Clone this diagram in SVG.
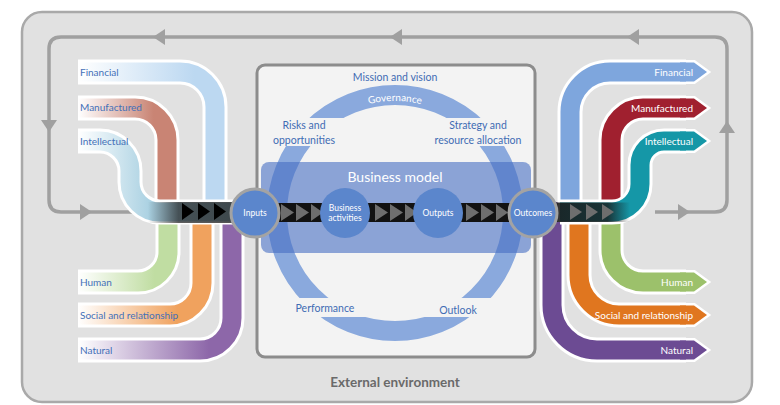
<svg xmlns="http://www.w3.org/2000/svg" width="780" height="405" viewBox="0 0 780 405">
<style>
text{font-family:Lato,"Liberation Sans",sans-serif}
.wo{fill:none;stroke:#fff;stroke-width:25}
.st{fill:none;stroke-width:19}
.lab{font-size:10px;fill:#4470b8}
.rlab{font-size:10px;fill:#fff;text-anchor:end}
.ctr{font-size:10.5px;fill:#3f6cb4;text-anchor:middle}
.clab{font-size:8.5px;fill:#fff;text-anchor:middle}
.tip{stroke:#fff;stroke-width:5;paint-order:stroke;stroke-linejoin:miter}
.loop{fill:none;stroke:#a0a0a0;stroke-width:3.5}
.la{fill:#a0a0a0}
.bar{fill:#121212}
.gt{fill:#6e6e6e}
</style>
<defs>
<linearGradient id="gFinL" x1="0" y1="0" x2="1" y2="0"><stop offset="0" stop-color="#fff"/><stop offset="0.85" stop-color="#bcd8f1"/></linearGradient>
<linearGradient id="gManL" x1="0" y1="0" x2="1" y2="0"><stop offset="0" stop-color="#fff"/><stop offset="0.85" stop-color="#c98474"/></linearGradient>
<linearGradient id="gIntL" x1="0" y1="0" x2="1" y2="0"><stop offset="0" stop-color="#fff"/><stop offset="0.45" stop-color="#aad1e2"/></linearGradient>
<linearGradient id="gHumL" x1="0" y1="0" x2="1" y2="0"><stop offset="0" stop-color="#fff"/><stop offset="0.85" stop-color="#c0dda2"/></linearGradient>
<linearGradient id="gSocL" x1="0" y1="0" x2="1" y2="0"><stop offset="0" stop-color="#fff"/><stop offset="0.8" stop-color="#f0a25e"/></linearGradient>
<linearGradient id="gNatL" x1="0" y1="0" x2="1" y2="0"><stop offset="0" stop-color="#fff"/><stop offset="0.85" stop-color="#8d67a9"/></linearGradient>
<linearGradient id="gDarkL" gradientUnits="userSpaceOnUse" x1="148" y1="0" x2="235" y2="0"><stop offset="0" stop-color="#1a1a1a" stop-opacity="0"/><stop offset="0.35" stop-color="#1a1a1a" stop-opacity="0.7"/><stop offset="1" stop-color="#1a1a1a" stop-opacity="0.75"/></linearGradient>
<linearGradient id="gDarkR" gradientUnits="userSpaceOnUse" x1="555" y1="0" x2="630" y2="0"><stop offset="0" stop-color="#1a1a1a" stop-opacity="0.9"/><stop offset="0.7" stop-color="#1a1a1a" stop-opacity="0.8"/><stop offset="1" stop-color="#1a1a1a" stop-opacity="0"/></linearGradient>
<clipPath id="ringClip">
<rect x="0" y="0" width="780" height="118"/>
<rect x="0" y="146" width="780" height="152"/>
<rect x="0" y="317" width="780" height="90"/>
</clipPath>
<path id="govArc" d="M339,116 A112,112 0 0 1 451,116"/>
</defs>

<g id="external-environment">
<rect x="22" y="12" width="730" height="390" rx="20" fill="#e1e1e1" stroke="#a9a9a9" stroke-width="2.5"/>
<text x="395" y="387" text-anchor="middle" font-size="13.5" font-weight="bold" fill="#6a6a6a">External environment</text>
</g>

<g id="connectors">
<path class="loop" d="M655,212 H715 Q727,212 727,200 V49 Q727,37 715,37 H61 Q49,37 49,49 V200 Q49,212 61,212 H180"/>
<polygon class="la" points="153,37 165,29 165,45"/>
<polygon class="la" points="390,37 402,29 402,45"/>
<polygon class="la" points="627,37 639,29 639,45"/>
<polygon class="la" points="41,120 57,120 49,132"/>
<polygon class="la" points="80,204 80,220 92,212"/>
<polygon class="la" points="678,204 678,220 690,212"/>
<polygon class="la" points="719,133 735,133 727,121"/>
</g>

<g id="organisation">
<rect x="257" y="65" width="278" height="292" rx="8" fill="#f3f3f3" stroke="#8c8c8c" stroke-width="3"/>
<circle cx="395" cy="213" r="118" fill="none" stroke="#8aa9dd" stroke-width="20" clip-path="url(#ringClip)"/>
<rect x="261" y="162" width="270" height="91" rx="8" fill="rgb(70,110,195)" fill-opacity="0.6"/>
<text x="395" y="182" text-anchor="middle" font-size="14" fill="#fff">Business model</text>
<text class="ctr" x="395" y="81">Mission and vision</text>
<text font-size="10" fill="#fff" text-anchor="middle"><textPath href="#govArc" startOffset="50%">Governance</textPath></text>
<text class="ctr" x="304" y="129">Risks and</text>
<text class="ctr" x="304" y="144">opportunities</text>
<text class="ctr" x="478" y="129">Strategy and</text>
<text class="ctr" x="478" y="144">resource allocation</text>
<text class="ctr" x="325" y="312">Performance</text>
<text class="ctr" x="458" y="314">Outlook</text>
</g>

<g id="inputs-capitals">
<g id="in-financial"><path class="wo" d="M78,72 H180 A35,35 0 0 1 215,107 V222"/><path class="st" stroke="url(#gFinL)" d="M78,72 H180 A35,35 0 0 1 215,107 V222"/></g>
<g id="in-manufactured"><path class="wo" d="M78,108 H135 A32,32 0 0 1 167,140 V222"/><path class="st" stroke="url(#gManL)" d="M78,108 H135 A32,32 0 0 1 167,140 V222"/></g>
<g id="in-natural"><path class="wo" d="M78,350 H200 A32,32 0 0 0 232,318 V203"/><path class="st" stroke="url(#gNatL)" d="M78,350 H200 A32,32 0 0 0 232,318 V203"/></g>
<g id="in-social"><path class="wo" d="M78,315 H170 A32,32 0 0 0 202,283 V203"/><path class="st" stroke="url(#gSocL)" d="M78,315 H170 A32,32 0 0 0 202,283 V203"/></g>
<g id="in-human"><path class="wo" d="M78,282 H138 A30,30 0 0 0 168,252 V203"/><path class="st" stroke="url(#gHumL)" d="M78,282 H138 A30,30 0 0 0 168,252 V203"/></g>
<g id="in-intellectual"><path class="wo" d="M78,141 H100 A30,30 0 0 1 130,171 V182 A30,30 0 0 0 160,212 H238"/><path class="st" stroke="url(#gIntL)" d="M78,141 H100 A30,30 0 0 1 130,171 V182 A30,30 0 0 0 160,212 H238"/></g>
<rect x="148" y="202" width="90" height="21" fill="url(#gDarkL)"/>
<polygon points="182,203 182,220 194,211.5" fill="#000"/>
<polygon points="198,203 198,220 210,211.5" fill="#000"/>
<polygon points="214,203 214,220 226,211.5" fill="#000"/>
<text class="lab" x="80" y="76">Financial</text>
<text class="lab" x="80" y="111">Manufactured</text>
<text class="lab" x="80" y="145">Intellectual</text>
<text class="lab" x="80" y="286">Human</text>
<text class="lab" x="80" y="319">Social and relationship</text>
<text class="lab" x="80" y="354">Natural</text>
</g>

<g id="outcomes-capitals">
<g id="out-natural"><path class="wo" d="M552,202 V305 A45,45 0 0 0 597,350 H686"/><polygon class="tip" fill="#6c4b93" points="680,340.5 694,340.5 707,350 694,359.5 680,359.5"/><path class="st" stroke="#6c4b93" d="M552,202 V305 A45,45 0 0 0 597,350 H686"/></g>
<g id="out-social"><path class="wo" d="M579,202 V275 A40,40 0 0 0 619,315 H686"/><polygon class="tip" fill="#e0761f" points="680,305.5 694,305.5 707,315 694,324.5 680,324.5"/><path class="st" stroke="#e0761f" d="M579,202 V275 A40,40 0 0 0 619,315 H686"/></g>
<g id="out-human"><path class="wo" d="M611,202 V250 A32,32 0 0 0 643,282 H686"/><polygon class="tip" fill="#9cc16b" points="680,272.5 694,272.5 707,282 694,291.5 680,291.5"/><path class="st" stroke="#9cc16b" d="M611,202 V250 A32,32 0 0 0 643,282 H686"/></g>
<g id="out-financial"><path class="wo" d="M570,222 V112 A40,40 0 0 1 610,72 H686"/><polygon class="tip" fill="#7ea6dd" points="680,62.5 694,62.5 707,72 694,81.5 680,81.5"/><path class="st" stroke="#7ea6dd" d="M570,222 V112 A40,40 0 0 1 610,72 H686"/></g>
<g id="out-manufactured"><path class="wo" d="M611,222 V140 A32,32 0 0 1 643,108 H686"/><polygon class="tip" fill="#a0202f" points="680,98.5 694,98.5 707,108 694,117.5 680,117.5"/><path class="st" stroke="#a0202f" d="M611,222 V140 A32,32 0 0 1 643,108 H686"/></g>
<g id="out-intellectual"><path class="wo" d="M560,212 H612 A28,28 0 0 0 640,184 V165 A24,24 0 0 1 664,141 H686"/><polygon class="tip" fill="#1597a7" points="680,131.5 694,131.5 707,141 694,150.5 680,150.5"/><path class="st" stroke="#1597a7" d="M560,212 H612 A28,28 0 0 0 640,184 V165 A24,24 0 0 1 664,141 H686"/></g>
<rect x="552" y="202.5" width="78" height="19.5" fill="url(#gDarkR)"/>
<polygon class="gt" points="570,204 570,220 582,212"/>
<polygon class="gt" points="586,204 586,220 598,212"/>
<polygon class="gt" points="602,204 602,220 614,212"/>
<text class="rlab" x="693" y="76">Financial</text>
<text class="rlab" x="693" y="111.5">Manufactured</text>
<text class="rlab" x="693" y="144.5">Intellectual</text>
<text class="rlab" x="693" y="285.5">Human</text>
<text class="rlab" x="693" y="318.5">Social and relationship</text>
<text class="rlab" x="693" y="353.5">Natural</text>
</g>

<g id="value-chain">
<rect class="bar" x="270" y="203" width="60" height="19"/>
<rect class="bar" x="360" y="203" width="60" height="19"/>
<rect class="bar" x="453" y="203" width="62" height="19"/>
<polygon class="gt" points="281,204 281,221 294,212.5"/>
<polygon class="gt" points="296,204 296,221 309,212.5"/>
<polygon class="gt" points="311,204 311,221 323,212.5"/>
<polygon class="gt" points="375,204 375,221 388,212.5"/>
<polygon class="gt" points="390,204 390,221 403,212.5"/>
<polygon class="gt" points="405,204 405,221 417,212.5"/>
<polygon class="gt" points="466,204 466,221 479,212.5"/>
<polygon class="gt" points="481,204 481,221 494,212.5"/>
<polygon class="gt" points="496,204 496,221 508,212.5"/>
</g>

<g id="node-inputs"><circle cx="255" cy="213" r="24" fill="#5b86cc" stroke="#a3a3a3" stroke-width="3"/><text class="clab" x="255" y="216">Inputs</text></g>
<g id="node-business-activities"><circle cx="345" cy="213" r="25" fill="#5b86cc"/><text class="clab" x="345" y="211">Business</text><text class="clab" x="345" y="221">activities</text></g>
<g id="node-outputs"><circle cx="438" cy="213" r="25" fill="#5b86cc"/><text class="clab" x="438" y="216">Outputs</text></g>
<g id="node-outcomes"><circle cx="533" cy="213" r="24" fill="#5b86cc" stroke="#a3a3a3" stroke-width="3"/><text class="clab" x="533" y="216" font-size="8">Outcomes</text></g>
</svg>
